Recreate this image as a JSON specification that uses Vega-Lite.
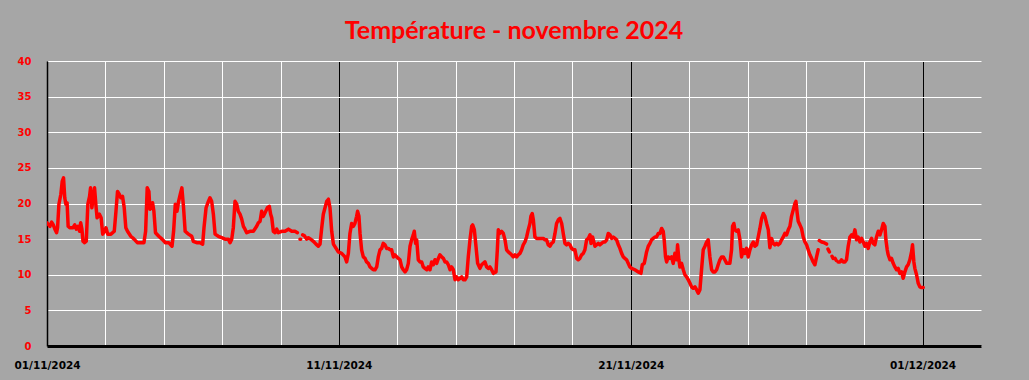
{
"$schema": "https://vega.github.io/schema/vega-lite/v6.json",
"width": 934, "height": 285,
"autosize": {"type": "none"},
"padding": {"left": 47, "top": 61, "right": 48, "bottom": 34},
"background": "#a6a6a6",
"title": {"text": "Température - novembre 2024", "color": "#ff0000", "font": "Lato", "fontWeight": "bold", "fontSize": 25, "anchor": "middle", "offset": 12},
"config": {"view": {"stroke": null}},
"data": {"values": [
{"t":"2024-11-01T00:00","v":17.3},{"t":"2024-11-01T02:24","v":16.8},{"t":"2024-11-01T03:48","v":17.4},{"t":"2024-11-01T05:12","v":17.0},{"t":"2024-11-01T06:30","v":16.4},{"t":"2024-11-01T07:54","v":15.9},{"t":"2024-11-01T08:42","v":16.6},{"t":"2024-11-01T09:48","v":19.9},{"t":"2024-11-01T11:24","v":21.3},{"t":"2024-11-01T12:30","v":23.1},{"t":"2024-11-01T13:36","v":23.6},{"t":"2024-11-01T14:36","v":20.8},{"t":"2024-11-01T15:30","v":19.9},{"t":"2024-11-01T16:30","v":20.1},{"t":"2024-11-01T17:24","v":16.8},{"t":"2024-11-01T18:42","v":16.6},{"t":"2024-11-01T21:24","v":16.6},{"t":"2024-11-01T22:48","v":17.0},
{"t":"2024-11-02T00:06","v":16.4},{"t":"2024-11-02T01:30","v":16.8},{"t":"2024-11-02T02:48","v":16.1},{"t":"2024-11-02T03:42","v":17.3},{"t":"2024-11-02T04:42","v":16.4},{"t":"2024-11-02T05:36","v":14.7},{"t":"2024-11-02T06:54","v":14.5},{"t":"2024-11-02T08:18","v":14.7},{"t":"2024-11-02T09:36","v":19.9},{"t":"2024-11-02T11:00","v":21.0},{"t":"2024-11-02T11:48","v":22.2},{"t":"2024-11-02T12:54","v":19.4},{"t":"2024-11-02T14:12","v":21.0},{"t":"2024-11-02T15:06","v":22.2},{"t":"2024-11-02T16:24","v":19.4},{"t":"2024-11-02T17:12","v":18.0},{"t":"2024-11-02T19:06","v":18.5},{"t":"2024-11-02T20:30","v":18.0},{"t":"2024-11-02T21:48","v":15.7},{"t":"2024-11-02T23:12","v":16.1},
{"t":"2024-11-03T00:30","v":16.6},{"t":"2024-11-03T01:54","v":15.7},{"t":"2024-11-03T04:36","v":15.7},{"t":"2024-11-03T07:18","v":16.1},{"t":"2024-11-03T08:42","v":18.9},{"t":"2024-11-03T10:00","v":21.7},{"t":"2024-11-03T11:24","v":21.3},{"t":"2024-11-03T12:42","v":20.8},{"t":"2024-11-03T14:06","v":21.0},{"t":"2024-11-03T15:30","v":19.4},{"t":"2024-11-03T16:48","v":16.6},{"t":"2024-11-03T18:12","v":16.1},{"t":"2024-11-03T20:54","v":15.4},{"t":"2024-11-03T23:36","v":15.0},
{"t":"2024-11-04T02:18","v":14.5},{"t":"2024-11-04T05:00","v":14.5},{"t":"2024-11-04T07:42","v":14.5},{"t":"2024-11-04T09:06","v":16.1},{"t":"2024-11-04T10:24","v":22.2},{"t":"2024-11-04T11:48","v":21.7},{"t":"2024-11-04T12:36","v":19.2},{"t":"2024-11-04T13:42","v":19.4},{"t":"2024-11-04T14:48","v":20.1},{"t":"2024-11-04T15:54","v":18.9},{"t":"2024-11-04T17:12","v":15.9},{"t":"2024-11-04T19:54","v":15.4},{"t":"2024-11-04T22:36","v":15.0},
{"t":"2024-11-05T01:24","v":14.5},{"t":"2024-11-05T04:06","v":14.5},{"t":"2024-11-05T06:48","v":14.0},{"t":"2024-11-05T08:06","v":16.1},{"t":"2024-11-05T09:30","v":19.9},{"t":"2024-11-05T10:54","v":18.9},{"t":"2024-11-05T12:12","v":20.3},{"t":"2024-11-05T13:36","v":21.3},{"t":"2024-11-05T14:54","v":22.2},{"t":"2024-11-05T16:18","v":19.4},{"t":"2024-11-05T17:36","v":16.1},{"t":"2024-11-05T20:18","v":15.7},{"t":"2024-11-05T23:00","v":15.4},
{"t":"2024-11-06T00:18","v":14.7},{"t":"2024-11-06T03:06","v":14.5},{"t":"2024-11-06T05:48","v":14.5},{"t":"2024-11-06T08:00","v":14.3},{"t":"2024-11-06T09:06","v":16.6},{"t":"2024-11-06T10:48","v":19.4},{"t":"2024-11-06T12:42","v":20.3},{"t":"2024-11-06T14:00","v":20.8},{"t":"2024-11-06T15:24","v":20.3},{"t":"2024-11-06T16:48","v":18.5},{"t":"2024-11-06T18:12","v":15.7},{"t":"2024-11-06T20:54","v":15.4},{"t":"2024-11-06T23:36","v":15.2},
{"t":"2024-11-07T02:24","v":15.0},{"t":"2024-11-07T05:06","v":15.0},{"t":"2024-11-07T06:30","v":14.5},{"t":"2024-11-07T07:54","v":15.0},{"t":"2024-11-07T09:12","v":16.6},{"t":"2024-11-07T10:36","v":20.3},{"t":"2024-11-07T12:00","v":19.9},{"t":"2024-11-07T13:18","v":18.9},{"t":"2024-11-07T14:42","v":18.5},{"t":"2024-11-07T16:06","v":17.8},{"t":"2024-11-07T17:30","v":16.8},{"t":"2024-11-07T18:48","v":16.4},{"t":"2024-11-07T20:12","v":15.9},{"t":"2024-11-07T22:54","v":16.1},
{"t":"2024-11-08T01:42","v":16.1},{"t":"2024-11-08T04:24","v":16.8},{"t":"2024-11-08T05:48","v":17.3},{"t":"2024-11-08T07:12","v":17.5},{"t":"2024-11-08T08:30","v":18.9},{"t":"2024-11-08T09:54","v":18.2},{"t":"2024-11-08T11:18","v":18.7},{"t":"2024-11-08T13:12","v":19.4},{"t":"2024-11-08T14:48","v":19.6},{"t":"2024-11-08T15:54","v":18.5},{"t":"2024-11-08T16:48","v":18.0},{"t":"2024-11-08T18:06","v":16.1},{"t":"2024-11-08T19:30","v":15.9},{"t":"2024-11-08T20:54","v":16.4},{"t":"2024-11-08T22:12","v":15.9},
{"t":"2024-11-09T01:00","v":16.1},{"t":"2024-11-09T03:42","v":16.1},{"t":"2024-11-09T06:30","v":16.4},{"t":"2024-11-09T09:12","v":16.1},{"t":"2024-11-09T11:54","v":16.1},{"t":"2024-11-09T13:54","v":15.9},{"t":"2024-11-09T14:30","v":null},{"t":"2024-11-09T16:00","v":15.0},{"t":"2024-11-09T16:36","v":15.0},{"t":"2024-11-09T17:18","v":null},{"t":"2024-11-09T18:12","v":15.6},{"t":"2024-11-09T19:30","v":15.5},{"t":"2024-11-09T21:30","v":15.0},{"t":"2024-11-09T22:54","v":15.2},
{"t":"2024-11-10T00:48","v":15.0},{"t":"2024-11-10T03:00","v":14.7},{"t":"2024-11-10T05:12","v":14.3},{"t":"2024-11-10T07:06","v":14.0},{"t":"2024-11-10T08:30","v":14.3},{"t":"2024-11-10T09:54","v":16.6},{"t":"2024-11-10T11:12","v":18.5},{"t":"2024-11-10T12:36","v":19.4},{"t":"2024-11-10T14:00","v":20.3},{"t":"2024-11-10T15:24","v":20.6},{"t":"2024-11-10T16:42","v":19.4},{"t":"2024-11-10T18:06","v":16.1},{"t":"2024-11-10T19:30","v":14.3},{"t":"2024-11-10T23:30","v":13.2},
{"t":"2024-11-11T02:18","v":13.0},{"t":"2024-11-11T05:00","v":12.5},{"t":"2024-11-11T06:24","v":11.8},{"t":"2024-11-11T07:48","v":13.0},{"t":"2024-11-11T09:06","v":15.8},{"t":"2024-11-11T10:30","v":17.2},{"t":"2024-11-11T11:54","v":16.8},{"t":"2024-11-11T13:12","v":17.2},{"t":"2024-11-11T14:36","v":18.2},{"t":"2024-11-11T15:24","v":18.9},{"t":"2024-11-11T16:30","v":18.2},{"t":"2024-11-11T17:24","v":15.8},{"t":"2024-11-11T18:42","v":13.5},{"t":"2024-11-11T20:06","v":12.5},{"t":"2024-11-11T21:30","v":12.3},{"t":"2024-11-11T22:48","v":11.8},
{"t":"2024-11-12T00:12","v":11.6},{"t":"2024-11-12T01:36","v":11.1},{"t":"2024-11-12T03:00","v":10.9},{"t":"2024-11-12T04:18","v":10.7},{"t":"2024-11-12T05:42","v":10.7},{"t":"2024-11-12T07:06","v":11.1},{"t":"2024-11-12T08:24","v":12.5},{"t":"2024-11-12T09:48","v":13.5},{"t":"2024-11-12T11:12","v":13.7},{"t":"2024-11-12T12:30","v":14.4},{"t":"2024-11-12T13:54","v":14.2},{"t":"2024-11-12T15:18","v":13.7},{"t":"2024-11-12T16:42","v":13.7},{"t":"2024-11-12T18:00","v":13.5},{"t":"2024-11-12T19:24","v":13.5},{"t":"2024-11-12T20:48","v":12.5},{"t":"2024-11-12T22:06","v":12.8},{"t":"2024-11-12T23:30","v":12.5},
{"t":"2024-11-13T00:54","v":12.3},{"t":"2024-11-13T02:18","v":12.1},{"t":"2024-11-13T03:36","v":11.1},{"t":"2024-11-13T05:00","v":10.7},{"t":"2024-11-13T06:24","v":10.4},{"t":"2024-11-13T07:42","v":10.7},{"t":"2024-11-13T09:06","v":11.6},{"t":"2024-11-13T10:30","v":14.0},{"t":"2024-11-13T11:48","v":14.9},{"t":"2024-11-13T13:12","v":15.6},{"t":"2024-11-13T14:00","v":16.1},{"t":"2024-11-13T15:06","v":14.4},{"t":"2024-11-13T16:00","v":14.9},{"t":"2024-11-13T17:18","v":12.1},{"t":"2024-11-13T18:42","v":11.8},{"t":"2024-11-13T20:06","v":11.8},{"t":"2024-11-13T21:24","v":11.1},{"t":"2024-11-13T22:48","v":10.9},
{"t":"2024-11-14T00:12","v":10.7},{"t":"2024-11-14T01:30","v":11.1},{"t":"2024-11-14T02:54","v":10.7},{"t":"2024-11-14T04:18","v":11.8},{"t":"2024-11-14T05:42","v":11.4},{"t":"2024-11-14T07:00","v":12.1},{"t":"2024-11-14T08:24","v":11.6},{"t":"2024-11-14T09:48","v":12.3},{"t":"2024-11-14T11:06","v":12.8},{"t":"2024-11-14T12:30","v":12.5},{"t":"2024-11-14T13:54","v":12.3},{"t":"2024-11-14T15:18","v":11.8},{"t":"2024-11-14T16:36","v":11.8},{"t":"2024-11-14T18:00","v":11.4},{"t":"2024-11-14T19:24","v":10.7},{"t":"2024-11-14T20:42","v":11.1},{"t":"2024-11-14T22:06","v":10.7},{"t":"2024-11-14T23:30","v":9.3},
{"t":"2024-11-15T00:48","v":9.7},{"t":"2024-11-15T02:12","v":9.3},{"t":"2024-11-15T03:36","v":9.5},{"t":"2024-11-15T05:00","v":9.7},{"t":"2024-11-15T06:18","v":9.3},{"t":"2024-11-15T07:42","v":9.3},{"t":"2024-11-15T09:06","v":9.7},{"t":"2024-11-15T10:24","v":12.5},{"t":"2024-11-15T11:48","v":14.9},{"t":"2024-11-15T13:12","v":16.8},{"t":"2024-11-15T14:00","v":17.0},{"t":"2024-11-15T15:24","v":16.3},{"t":"2024-11-15T16:30","v":14.4},{"t":"2024-11-15T18:06","v":11.6},{"t":"2024-11-15T20:00","v":10.9},{"t":"2024-11-15T21:24","v":11.4},{"t":"2024-11-15T22:42","v":11.6},
{"t":"2024-11-16T00:06","v":11.8},{"t":"2024-11-16T01:30","v":11.1},{"t":"2024-11-16T02:54","v":10.9},{"t":"2024-11-16T04:12","v":11.1},{"t":"2024-11-16T05:36","v":10.7},{"t":"2024-11-16T07:00","v":10.2},{"t":"2024-11-16T09:12","v":10.4},{"t":"2024-11-16T10:18","v":13.5},{"t":"2024-11-16T11:06","v":16.3},{"t":"2024-11-16T12:24","v":15.8},{"t":"2024-11-16T13:48","v":16.1},{"t":"2024-11-16T15:12","v":15.8},{"t":"2024-11-16T16:36","v":14.9},{"t":"2024-11-16T17:54","v":13.5},{"t":"2024-11-16T19:18","v":13.2},{"t":"2024-11-16T20:42","v":13.0},{"t":"2024-11-16T22:00","v":12.8},{"t":"2024-11-16T23:24","v":12.5},
{"t":"2024-11-17T00:48","v":12.8},{"t":"2024-11-17T02:12","v":12.5},{"t":"2024-11-17T03:30","v":12.8},{"t":"2024-11-17T04:54","v":13.0},{"t":"2024-11-17T06:18","v":13.5},{"t":"2024-11-17T07:36","v":14.2},{"t":"2024-11-17T09:00","v":14.6},{"t":"2024-11-17T10:24","v":15.3},{"t":"2024-11-17T11:42","v":16.3},{"t":"2024-11-17T13:06","v":17.2},{"t":"2024-11-17T13:54","v":18.2},{"t":"2024-11-17T15:00","v":18.6},{"t":"2024-11-17T15:54","v":17.7},{"t":"2024-11-17T17:12","v":15.3},{"t":"2024-11-17T18:36","v":15.1},{"t":"2024-11-17T20:00","v":15.1},{"t":"2024-11-17T21:18","v":15.1},{"t":"2024-11-17T22:42","v":15.1},
{"t":"2024-11-18T00:06","v":15.1},{"t":"2024-11-18T01:30","v":14.9},{"t":"2024-11-18T02:48","v":14.9},{"t":"2024-11-18T04:12","v":14.2},{"t":"2024-11-18T05:36","v":14.0},{"t":"2024-11-18T06:54","v":14.4},{"t":"2024-11-18T08:18","v":14.6},{"t":"2024-11-18T09:42","v":15.8},{"t":"2024-11-18T11:00","v":17.2},{"t":"2024-11-18T12:24","v":17.7},{"t":"2024-11-18T13:48","v":17.9},{"t":"2024-11-18T15:12","v":17.2},{"t":"2024-11-18T16:30","v":15.8},{"t":"2024-11-18T17:54","v":14.4},{"t":"2024-11-18T19:18","v":14.2},{"t":"2024-11-18T20:36","v":14.4},{"t":"2024-11-18T22:00","v":14.2},{"t":"2024-11-18T23:24","v":13.7},
{"t":"2024-11-19T00:42","v":13.5},{"t":"2024-11-19T02:06","v":13.5},{"t":"2024-11-19T03:30","v":12.3},{"t":"2024-11-19T04:54","v":12.1},{"t":"2024-11-19T06:12","v":12.3},{"t":"2024-11-19T07:36","v":12.8},{"t":"2024-11-19T09:00","v":13.0},{"t":"2024-11-19T10:18","v":13.5},{"t":"2024-11-19T11:42","v":14.9},{"t":"2024-11-19T13:06","v":15.1},{"t":"2024-11-19T14:30","v":15.6},{"t":"2024-11-19T15:18","v":14.4},{"t":"2024-11-19T16:36","v":15.3},{"t":"2024-11-19T18:36","v":14.0},{"t":"2024-11-19T19:54","v":14.2},{"t":"2024-11-19T21:18","v":14.4},{"t":"2024-11-19T22:42","v":14.2},
{"t":"2024-11-20T00:00","v":14.4},{"t":"2024-11-20T01:24","v":14.6},{"t":"2024-11-20T02:48","v":14.6},{"t":"2024-11-20T04:12","v":14.9},{"t":"2024-11-20T05:30","v":15.8},{"t":"2024-11-20T06:54","v":15.6},{"t":"2024-11-20T08:18","v":15.1},{"t":"2024-11-20T09:36","v":15.3},{"t":"2024-11-20T11:00","v":15.1},{"t":"2024-11-20T12:24","v":14.9},{"t":"2024-11-20T13:48","v":14.2},{"t":"2024-11-20T15:06","v":13.7},{"t":"2024-11-20T16:30","v":13.0},{"t":"2024-11-20T17:54","v":12.5},{"t":"2024-11-20T19:12","v":12.3},{"t":"2024-11-20T20:36","v":12.1},{"t":"2024-11-20T21:54","v":11.6},{"t":"2024-11-20T23:18","v":11.1},
{"t":"2024-11-21T00:42","v":10.9},{"t":"2024-11-21T03:24","v":10.7},{"t":"2024-11-21T06:12","v":10.4},{"t":"2024-11-21T08:24","v":10.2},{"t":"2024-11-21T09:30","v":11.4},{"t":"2024-11-21T11:06","v":11.6},{"t":"2024-11-21T12:12","v":12.5},{"t":"2024-11-21T13:00","v":13.2},{"t":"2024-11-21T14:24","v":14.0},{"t":"2024-11-21T15:48","v":14.4},{"t":"2024-11-21T17:06","v":14.9},{"t":"2024-11-21T18:30","v":15.1},{"t":"2024-11-21T19:54","v":15.3},{"t":"2024-11-21T21:12","v":15.3},{"t":"2024-11-21T22:36","v":15.8},
{"t":"2024-11-22T00:00","v":15.8},{"t":"2024-11-22T01:24","v":16.5},{"t":"2024-11-22T02:42","v":16.1},{"t":"2024-11-22T03:30","v":14.9},{"t":"2024-11-22T04:36","v":12.5},{"t":"2024-11-22T05:30","v":11.8},{"t":"2024-11-22T06:48","v":12.5},{"t":"2024-11-22T08:12","v":12.3},{"t":"2024-11-22T09:36","v":12.5},{"t":"2024-11-22T10:54","v":11.6},{"t":"2024-11-22T12:18","v":13.0},{"t":"2024-11-22T13:42","v":12.1},{"t":"2024-11-22T14:30","v":14.2},{"t":"2024-11-22T15:36","v":12.1},{"t":"2024-11-22T16:24","v":11.1},{"t":"2024-11-22T17:48","v":11.6},{"t":"2024-11-22T19:12","v":10.7},{"t":"2024-11-22T20:30","v":10.0},{"t":"2024-11-22T21:54","v":9.7},{"t":"2024-11-22T23:18","v":9.3},
{"t":"2024-11-23T00:42","v":8.8},{"t":"2024-11-23T02:00","v":8.3},{"t":"2024-11-23T03:24","v":8.1},{"t":"2024-11-23T04:48","v":8.3},{"t":"2024-11-23T06:06","v":7.9},{"t":"2024-11-23T07:30","v":7.4},{"t":"2024-11-23T08:54","v":7.9},{"t":"2024-11-23T10:12","v":10.7},{"t":"2024-11-23T11:36","v":13.5},{"t":"2024-11-23T13:00","v":14.0},{"t":"2024-11-23T14:24","v":14.6},{"t":"2024-11-23T15:42","v":14.9},{"t":"2024-11-23T17:06","v":12.5},{"t":"2024-11-23T18:30","v":10.7},{"t":"2024-11-23T19:48","v":10.4},{"t":"2024-11-23T21:12","v":10.4},{"t":"2024-11-23T22:36","v":10.7},{"t":"2024-11-23T23:54","v":11.4},
{"t":"2024-11-24T01:18","v":12.1},{"t":"2024-11-24T02:42","v":12.5},{"t":"2024-11-24T04:06","v":12.5},{"t":"2024-11-24T05:24","v":12.1},{"t":"2024-11-24T06:48","v":11.6},{"t":"2024-11-24T08:12","v":11.6},{"t":"2024-11-24T09:30","v":11.6},{"t":"2024-11-24T10:54","v":13.5},{"t":"2024-11-24T11:42","v":16.8},{"t":"2024-11-24T12:48","v":17.2},{"t":"2024-11-24T13:42","v":16.3},{"t":"2024-11-24T15:00","v":16.1},{"t":"2024-11-24T16:24","v":16.3},{"t":"2024-11-24T17:48","v":14.9},{"t":"2024-11-24T19:06","v":12.5},{"t":"2024-11-24T20:30","v":13.5},{"t":"2024-11-24T21:54","v":13.0},{"t":"2024-11-24T23:12","v":13.7},
{"t":"2024-11-25T00:36","v":12.5},{"t":"2024-11-25T02:00","v":13.5},{"t":"2024-11-25T03:24","v":14.2},{"t":"2024-11-25T04:42","v":14.6},{"t":"2024-11-25T06:06","v":14.0},{"t":"2024-11-25T07:30","v":14.2},{"t":"2024-11-25T08:48","v":15.3},{"t":"2024-11-25T10:12","v":16.5},{"t":"2024-11-25T11:36","v":17.9},{"t":"2024-11-25T13:00","v":18.6},{"t":"2024-11-25T14:18","v":18.2},{"t":"2024-11-25T15:42","v":17.2},{"t":"2024-11-25T17:06","v":16.3},{"t":"2024-11-25T18:24","v":13.8},{"t":"2024-11-25T19:48","v":15.1},{"t":"2024-11-25T21:06","v":14.4},{"t":"2024-11-25T22:30","v":14.2},{"t":"2024-11-25T23:54","v":14.4},
{"t":"2024-11-26T01:18","v":14.2},{"t":"2024-11-26T02:36","v":14.4},{"t":"2024-11-26T04:00","v":14.9},{"t":"2024-11-26T05:24","v":15.3},{"t":"2024-11-26T06:42","v":15.8},{"t":"2024-11-26T08:06","v":15.6},{"t":"2024-11-26T09:30","v":16.3},{"t":"2024-11-26T10:54","v":16.8},{"t":"2024-11-26T12:12","v":18.2},{"t":"2024-11-26T13:36","v":19.1},{"t":"2024-11-26T15:00","v":20.0},{"t":"2024-11-26T15:48","v":20.3},{"t":"2024-11-26T16:54","v":18.6},{"t":"2024-11-26T17:42","v":17.5},{"t":"2024-11-26T19:06","v":17.0},{"t":"2024-11-26T20:24","v":16.5},{"t":"2024-11-26T21:48","v":15.3},{"t":"2024-11-26T23:12","v":14.6},
{"t":"2024-11-27T00:36","v":14.2},{"t":"2024-11-27T01:54","v":13.5},{"t":"2024-11-27T03:18","v":12.8},{"t":"2024-11-27T04:42","v":12.3},{"t":"2024-11-27T06:00","v":11.8},{"t":"2024-11-27T07:24","v":11.4},{"t":"2024-11-27T08:48","v":12.5},{"t":"2024-11-27T10:06","v":13.5},{"t":"2024-11-27T10:36","v":null},{"t":"2024-11-27T11:00","v":14.8},{"t":"2024-11-27T13:00","v":14.6},{"t":"2024-11-27T15:00","v":14.5},{"t":"2024-11-27T17:00","v":14.3},{"t":"2024-11-27T17:36","v":null},{"t":"2024-11-27T18:12","v":13.6},{"t":"2024-11-27T19:24","v":13.2},{"t":"2024-11-27T20:30","v":null},{"t":"2024-11-27T21:30","v":12.6},{"t":"2024-11-27T22:24","v":12.3},{"t":"2024-11-27T23:12","v":null},
{"t":"2024-11-28T00:00","v":12.3},{"t":"2024-11-28T01:00","v":12.0},{"t":"2024-11-28T01:48","v":null},{"t":"2024-11-28T02:30","v":11.8},{"t":"2024-11-28T04:00","v":11.8},{"t":"2024-11-28T05:18","v":12.1},{"t":"2024-11-28T06:42","v":11.8},{"t":"2024-11-28T08:06","v":11.8},{"t":"2024-11-28T09:24","v":12.1},{"t":"2024-11-28T10:48","v":14.0},{"t":"2024-11-28T12:12","v":15.3},{"t":"2024-11-28T13:36","v":15.6},{"t":"2024-11-28T14:54","v":15.3},{"t":"2024-11-28T16:18","v":16.3},{"t":"2024-11-28T17:42","v":14.9},{"t":"2024-11-28T19:00","v":15.3},{"t":"2024-11-28T20:24","v":14.6},{"t":"2024-11-28T21:48","v":15.1},{"t":"2024-11-28T23:12","v":14.6},
{"t":"2024-11-29T00:30","v":14.0},{"t":"2024-11-29T01:54","v":14.4},{"t":"2024-11-29T03:18","v":13.7},{"t":"2024-11-29T04:36","v":14.6},{"t":"2024-11-29T06:00","v":15.1},{"t":"2024-11-29T07:24","v":14.4},{"t":"2024-11-29T08:42","v":14.2},{"t":"2024-11-29T10:06","v":15.3},{"t":"2024-11-29T11:30","v":16.1},{"t":"2024-11-29T12:54","v":15.6},{"t":"2024-11-29T14:12","v":16.3},{"t":"2024-11-29T15:36","v":17.2},{"t":"2024-11-29T17:00","v":16.8},{"t":"2024-11-29T17:48","v":14.9},{"t":"2024-11-29T18:54","v":13.5},{"t":"2024-11-29T19:42","v":12.8},{"t":"2024-11-29T21:06","v":12.1},{"t":"2024-11-29T22:24","v":12.3},{"t":"2024-11-29T23:48","v":11.6},
{"t":"2024-11-30T01:12","v":11.1},{"t":"2024-11-30T02:36","v":10.7},{"t":"2024-11-30T03:54","v":10.9},{"t":"2024-11-30T05:18","v":10.2},{"t":"2024-11-30T06:42","v":10.4},{"t":"2024-11-30T08:00","v":9.5},{"t":"2024-11-30T09:24","v":10.4},{"t":"2024-11-30T10:48","v":11.1},{"t":"2024-11-30T12:06","v":11.4},{"t":"2024-11-30T13:30","v":12.1},{"t":"2024-11-30T14:54","v":13.2},{"t":"2024-11-30T15:42","v":14.2},{"t":"2024-11-30T16:48","v":11.8},{"t":"2024-11-30T17:36","v":10.9},{"t":"2024-11-30T19:00","v":10.0},{"t":"2024-11-30T20:24","v":8.8},{"t":"2024-11-30T21:42","v":8.3},{"t":"2024-11-30T23:06","v":8.2},{"t":"2024-12-01T00:30","v":8.2}
]},
"mark": {"type": "line", "color": "#ff0000", "strokeWidth": 3.5, "strokeJoin": "round", "strokeCap": "round", "invalid": "break-paths-show-domains", "clip": true},
"encoding": {
"x": {"field": "t", "type": "temporal", "title": null,
 "scale": {"domain": [{"year": 2024, "month": 11, "date": 1}, {"year": 2024, "month": 12, "date": 3}]},
 "axis": {
  "values": [{"year":2024,"month":11,"date":1},{"year":2024,"month":11,"date":3},{"year":2024,"month":11,"date":5},{"year":2024,"month":11,"date":7},{"year":2024,"month":11,"date":9},{"year":2024,"month":11,"date":11},{"year":2024,"month":11,"date":13},{"year":2024,"month":11,"date":15},{"year":2024,"month":11,"date":17},{"year":2024,"month":11,"date":19},{"year":2024,"month":11,"date":21},{"year":2024,"month":11,"date":23},{"year":2024,"month":11,"date":25},{"year":2024,"month":11,"date":27},{"year":2024,"month":11,"date":29},{"year":2024,"month":12,"date":1}],
  "labelExpr": "date(datum.value) % 10 == 1 ? timeFormat(datum.value, '%d/%m/%Y') : ''",
  "labelFont": "DejaVu Sans", "labelFontWeight": "bold", "labelFontSize": 10.5, "labelColor": "#000000",
  "labelPadding": 14, "labelFlush": false, "labelOverlap": false,
  "ticks": false,
  "domainColor": "#000000", "domainWidth": 3,
  "grid": true, "gridWidth": 1,
  "gridColor": {"condition": {"test": "date(datum.value) % 10 == 1", "value": "#000000"}, "value": "#ffffff"}
 }},
"y": {"field": "v", "type": "quantitative", "title": null,
 "scale": {"domain": [0, 40], "nice": false},
 "axis": {"values": [0,5,10,15,20,25,30,35,40], "labelFont": "DejaVu Sans", "labelFontWeight": "bold", "labelFontSize": 10, "labelColor": "#ff0000",
  "labelPadding": 16, "ticks": false, "domainColor": "#000000", "domainWidth": 1.5,
  "grid": true, "gridColor": "#ffffff", "gridWidth": 1}}
}
}
